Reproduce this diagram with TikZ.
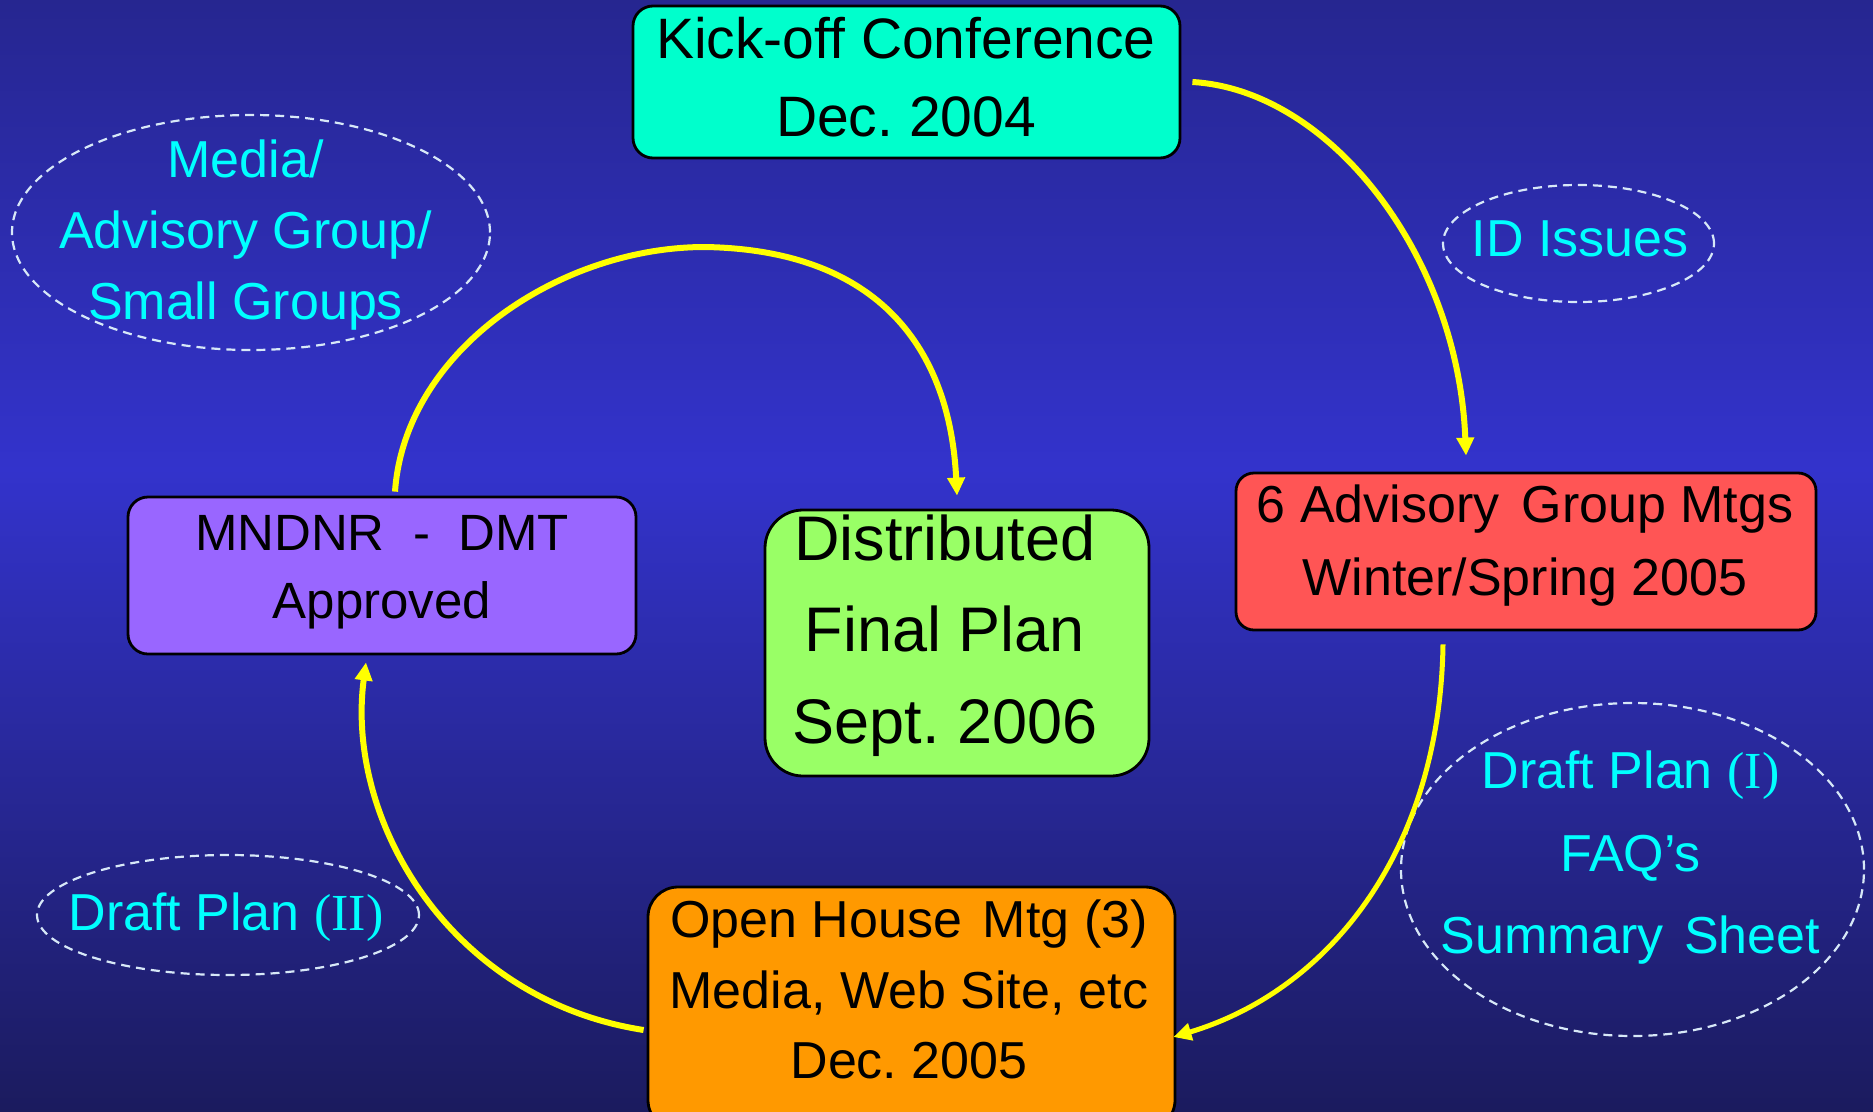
\documentclass[tikz,border=0pt]{standalone}
\usepackage{fontspec}
\setmainfont{Liberation Sans}
\newfontfamily\serifpar{Liberation Serif}
\usetikzlibrary{arrows.meta,shapes.geometric}
\definecolor{bgtop}{RGB}{38,38,144}
\definecolor{bgmid}{RGB}{51,51,204}
\definecolor{bgbot}{RGB}{27,27,94}
\definecolor{kickc}{RGB}{0,255,204}
\definecolor{advc}{RGB}{255,85,85}
\definecolor{mndc}{RGB}{153,102,255}
\definecolor{distc}{RGB}{153,255,102}
\definecolor{openc}{RGB}{255,153,0}
\definecolor{dashc}{RGB}{215,232,248}
\definecolor{notec}{RGB}{0,255,255}
\definecolor{arrc}{RGB}{255,255,0}
\begin{document}
\frenchspacing
\begin{tikzpicture}[x=1pt,y=-1pt,
  stagebox/.style={draw=black,line width=2.8pt,rounded corners=#1,inner sep=0pt},
  stagebox/.default=20pt,
  stagetxt/.style={align=center,inner sep=0pt,text=black},
  bubble/.style={ellipse,draw=dashc,line width=2.2pt,dash pattern=on 9pt off 6pt,inner sep=0pt},
  notetxt/.style={align=center,inner sep=0pt,text=notec,font=\fontsize{52}{71}\selectfont},
  flowarrow/.style={draw=arrc,line width=6pt,-{Triangle[length=18pt,width=17pt]}}
]
\useasboundingbox (0,0) rectangle (1873,1111);
\fill[top color=bgtop,bottom color=bgmid] (0,0) rectangle (1873,470);
\fill[top color=bgmid,bottom color=bgbot] (0,469) rectangle (1873,1111);

% ellipses with notes
\node[bubble,minimum width=478pt,minimum height=235pt] (media) at (251,232.5) {};
\node[notetxt] (mediatxt) at (245.5,235.5) {Media/\\Advisory Group/\\Small Groups};
\node[bubble,minimum width=271pt,minimum height=117pt] (idiss) at (1578.5,243.5) {};
\node[notetxt] (idtxt) at (1580,239) {ID Issues};
\node[bubble,minimum width=463pt,minimum height=333pt] (dpone) at (1632.5,869.5) {};
\node[notetxt,font=\fontsize{52}{82.5}\selectfont] (dponetxt) at (1630.5,858) {Draft Plan {\serifpar (I)}\\FAQ’s\\Summary\hspace{0.12em} Sheet};
\node[bubble,minimum width=382pt,minimum height=120pt] (dptwo) at (228,915) {};
\node[notetxt] (dptwotxt) at (226,917) {Draft Plan {\serifpar (II)}};

% stage boxes
\node[stagebox,fill=kickc,minimum width=547pt,minimum height=152pt] (kick) at (906.5,82) {};
\node[stagetxt,font=\fontsize{57}{78}\selectfont] (kicktxt) at (906,77.5) {Kick-off Conference\\Dec. 2004};
\node[stagebox=18pt,fill=advc,minimum width=580pt,minimum height=157pt] (adv) at (1526,551.5) {};
\node[stagetxt,font=\fontsize{52}{73}\selectfont] (advtxt) at (1525,546) {6 Advisory\hspace{0.15em} Group Mtgs\\Winter/Spring 2005};
\node[stagebox,fill=mndc,minimum width=508pt,minimum height=157pt] (mnd) at (382,575.5) {};
\node[stagetxt,font=\fontsize{51}{68}\selectfont] (mndtxt) at (382,572) {MNDNR\ \ -\ \ DMT\\Approved};
\node[stagebox=38pt,fill=distc,minimum width=384pt,minimum height=266pt] (dist) at (957,643) {};
\node[stagetxt,font=\fontsize{63}{91.5}\selectfont] (disttxt) at (945,635.5) {Distributed\\Final Plan\\Sept. 2006};
\node[stagebox=30pt,fill=openc,minimum width=527pt,minimum height=243pt] (open) at (911.5,1008.5) {};
\node[stagetxt,font=\fontsize{52}{70.5}\selectfont] (opentxt) at (909,989.5) {Open House\hspace{0.12em} Mtg (3)\\Media, Web Site, etc\\Dec. 2005};

% connectors
\coordinate (archtop) at (705,247);
\draw[flowarrow] ([xshift=11pt]kick.east) .. controls (1330,90) and (1458,255) .. ([xshift=-60pt,yshift=16pt]adv.north);
\draw[flowarrow,line width=5pt] ([xshift=-83pt,yshift=-13pt]adv.south) .. controls (1440,850) and (1330,990) .. ([xshift=-3pt,yshift=-28.5pt]open.east);
\draw[flowarrow] ([xshift=-3pt,yshift=-21.5pt]open.west) .. controls (450,1000) and (345,820) .. ([xshift=-16pt,yshift=-7pt]mnd.south);
\draw[flowarrow] ([xshift=13pt,yshift=4pt]mnd.north) .. controls (405,350) and (560,247) .. (archtop) .. controls (880,250) and (950,350) .. ([yshift=13pt]dist.north);
\end{tikzpicture}
\end{document}
